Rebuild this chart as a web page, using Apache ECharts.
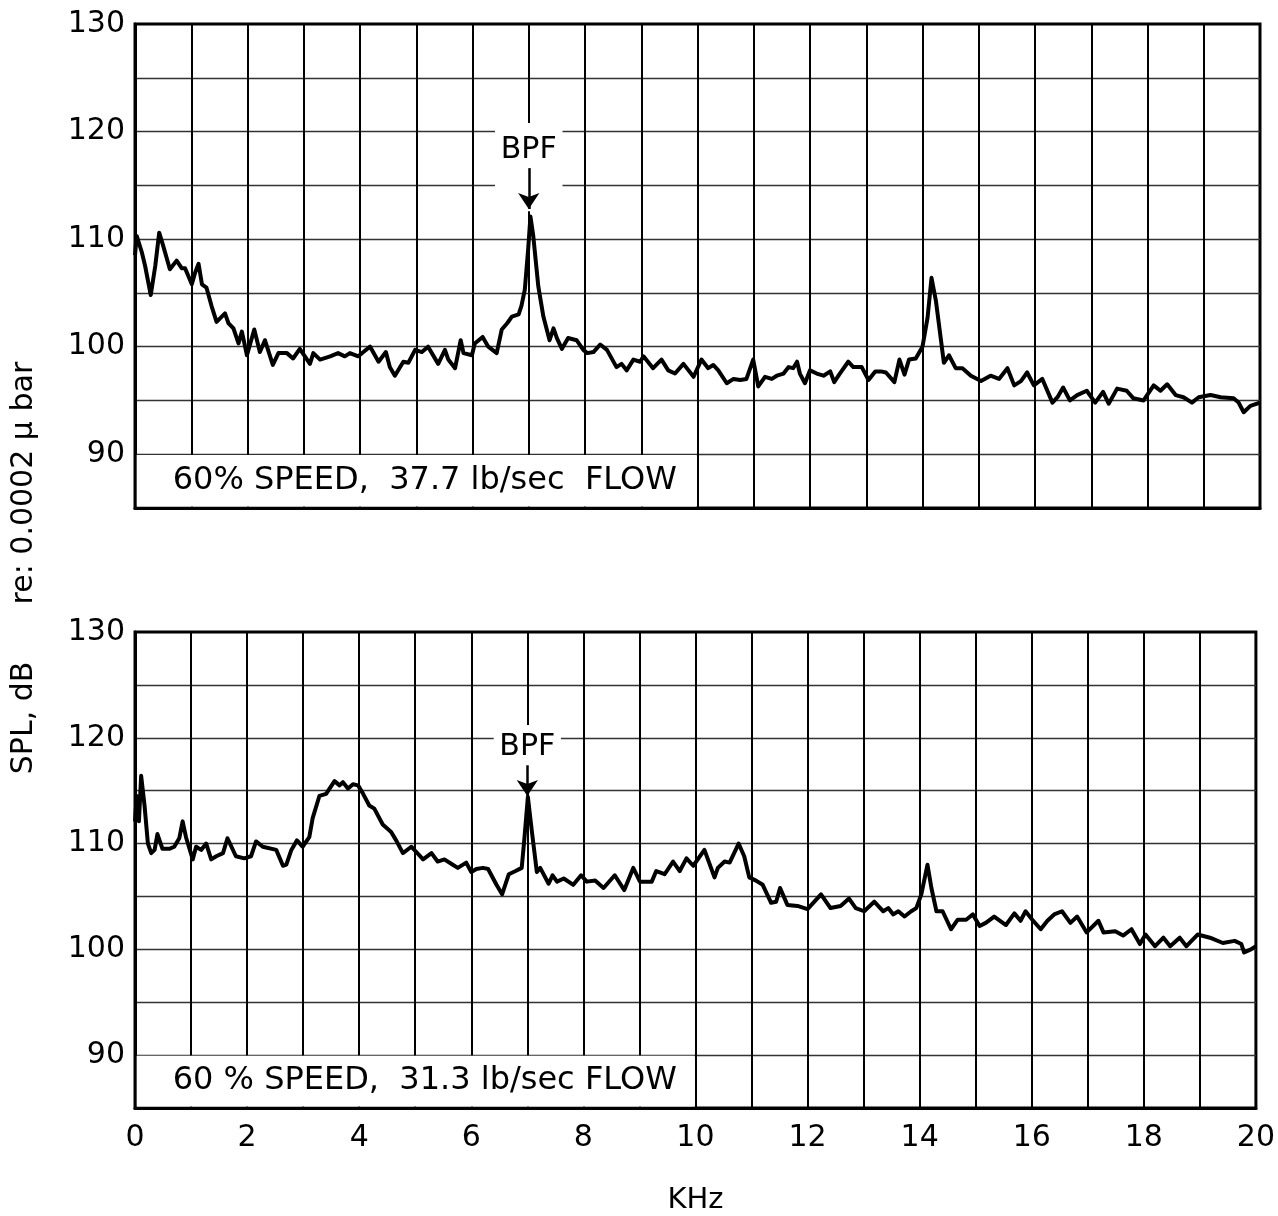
<!DOCTYPE html>
<html><head><meta charset="utf-8">
<script src="https://cdn.jsdelivr.net/npm/echarts@6/dist/echarts.min.js"></script>
<style>html,body{margin:0;padding:0;background:#fff}#c{width:1278px;height:1216px}</style>
</head><body><div id="c"></div>
<script>
// ---- data (frequency in kHz, SPL in dB) ----
const freqTop = [0.00,0.03,0.12,0.18,0.28,0.36,0.43,0.50,0.62,0.74,0.83,0.89,1.01,1.07,1.13,1.19,1.27,1.36,1.45,1.60,1.66,1.75,1.84,1.90,1.99,2.12,2.22,2.31,2.45,2.55,2.70,2.81,2.93,3.11,3.17,3.29,3.47,3.61,3.73,3.82,3.97,4.06,4.18,4.33,4.46,4.53,4.62,4.77,4.86,4.98,5.10,5.21,5.39,5.51,5.57,5.69,5.79,5.84,5.99,6.04,6.18,6.28,6.43,6.52,6.62,6.70,6.82,6.87,6.93,6.99,7.03,7.08,7.17,7.26,7.37,7.44,7.50,7.59,7.70,7.85,7.97,8.04,8.15,8.27,8.39,8.56,8.65,8.74,8.86,8.98,9.04,9.21,9.36,9.48,9.60,9.75,9.93,10.07,10.19,10.28,10.37,10.52,10.64,10.76,10.87,10.99,11.08,11.20,11.32,11.41,11.53,11.62,11.70,11.77,11.82,11.91,12.00,12.12,12.24,12.36,12.43,12.53,12.68,12.77,12.92,13.04,13.16,13.26,13.35,13.50,13.59,13.68,13.76,13.88,14.00,14.09,14.16,14.24,14.38,14.47,14.59,14.71,14.86,15.04,15.21,15.36,15.51,15.63,15.75,15.86,15.98,16.13,16.31,16.40,16.50,16.62,16.75,16.92,17.07,17.21,17.31,17.46,17.63,17.75,17.93,18.11,18.23,18.35,18.50,18.64,18.79,18.91,19.12,19.30,19.53,19.62,19.71,19.83,20.00];
const splTop = [108.5,110.3,108.8,107.5,104.8,107.5,110.6,109.4,107.2,108.0,107.3,107.3,105.8,106.9,107.7,105.8,105.5,103.8,102.3,103.1,102.2,101.7,100.3,101.4,99.2,101.6,99.5,100.6,98.3,99.4,99.4,98.9,99.8,98.4,99.4,98.8,99.1,99.4,99.1,99.4,99.1,99.5,100.0,98.6,99.5,98.1,97.3,98.6,98.5,99.7,99.5,100.0,98.4,99.7,98.8,98.0,100.6,99.4,99.2,100.3,100.9,100.0,99.4,101.6,102.2,102.8,103.0,103.8,105.3,109.1,112.1,110.3,105.6,102.8,100.6,101.7,100.8,99.8,100.8,100.6,99.7,99.4,99.5,100.2,99.7,98.1,98.4,97.8,98.8,98.6,99.1,98.0,98.8,97.8,97.5,98.4,97.2,98.8,98.0,98.3,97.8,96.6,97.0,96.9,97.0,98.8,96.3,97.2,97.0,97.3,97.5,98.1,98.0,98.6,97.5,96.6,97.8,97.5,97.3,97.7,96.7,97.5,98.6,98.1,98.1,96.9,97.7,97.7,97.6,96.7,98.8,97.4,98.8,98.9,100.0,102.7,106.4,104.2,98.5,99.2,98.0,98.0,97.3,96.8,97.3,97.0,98.0,96.4,96.8,97.6,96.4,97.0,94.8,95.3,96.2,95.0,95.5,95.9,94.8,95.8,94.7,96.1,95.9,95.2,95.0,96.4,95.9,96.5,95.5,95.3,94.8,95.3,95.5,95.3,95.2,94.8,93.9,94.5,94.8];
const freqBottom = [0.00,0.03,0.07,0.11,0.17,0.23,0.29,0.35,0.40,0.49,0.61,0.70,0.79,0.85,0.91,1.03,1.09,1.18,1.27,1.36,1.45,1.57,1.65,1.80,1.95,2.07,2.16,2.28,2.52,2.64,2.70,2.79,2.89,2.99,3.11,3.17,3.29,3.41,3.56,3.65,3.71,3.80,3.89,3.98,4.07,4.18,4.27,4.42,4.57,4.66,4.78,4.93,5.02,5.14,5.29,5.40,5.52,5.67,5.76,5.91,6.00,6.09,6.21,6.30,6.45,6.55,6.67,6.79,6.90,6.95,7.01,7.08,7.17,7.23,7.38,7.45,7.53,7.65,7.82,7.96,8.06,8.21,8.36,8.56,8.73,8.89,9.01,9.22,9.30,9.45,9.60,9.72,9.84,9.96,10.16,10.34,10.40,10.52,10.61,10.77,10.87,10.96,11.08,11.20,11.35,11.44,11.51,11.64,11.82,12.00,12.24,12.41,12.59,12.74,12.86,13.01,13.19,13.26,13.35,13.44,13.53,13.62,13.73,13.85,13.94,14.03,14.14,14.21,14.30,14.41,14.56,14.68,14.83,14.95,15.07,15.18,15.33,15.54,15.69,15.80,15.89,16.01,16.16,16.28,16.40,16.54,16.69,16.81,16.98,17.19,17.28,17.49,17.63,17.78,17.93,18.03,18.20,18.35,18.47,18.64,18.76,18.96,19.18,19.41,19.62,19.74,19.79,19.91,20.00];
const splBottom = [112.1,114.5,112.1,116.4,113.6,110.0,109.1,109.4,110.9,109.5,109.5,109.7,110.5,112.1,110.6,108.5,109.7,109.4,110.0,108.5,108.8,109.1,110.5,108.8,108.6,108.8,110.2,109.7,109.4,107.9,108.0,109.4,110.3,109.7,110.6,112.4,114.5,114.7,115.9,115.5,115.8,115.2,115.6,115.5,114.7,113.6,113.3,111.8,111.1,110.3,109.1,109.7,109.2,108.5,109.1,108.3,108.5,108.0,107.7,108.2,107.3,107.6,107.7,107.6,106.1,105.2,107.1,107.4,107.7,110.6,114.4,111.2,107.3,107.7,106.2,107.0,106.4,106.7,106.1,107.0,106.4,106.5,105.8,107.0,105.6,107.7,106.4,106.4,107.4,107.1,108.3,107.4,108.6,107.9,109.4,106.8,107.7,108.3,108.2,110.0,108.8,106.8,106.5,106.1,104.4,104.5,105.8,104.2,104.1,103.8,105.2,103.9,104.1,104.8,103.9,103.6,104.5,104.1,103.6,103.9,103.3,103.6,103.1,103.6,103.9,105.2,108.0,105.8,103.6,103.6,101.9,102.8,102.8,103.3,102.2,102.5,103.1,102.3,103.4,102.7,103.6,102.8,101.9,102.7,103.3,103.6,102.5,103.1,101.6,102.7,101.6,101.7,101.3,101.9,100.5,101.4,100.3,101.1,100.3,101.1,100.3,101.4,101.1,100.6,100.8,100.5,99.7,100.0,100.3];
const xTickLabels = [0,2,4,6,8,10,12,14,16,18,20];
const yTickLabels = [90,100,110,120,130];
const captionTop = '60% SPEED,  37.7 lb/sec  FLOW';
const captionBottom = '60 % SPEED,  31.3 lb/sec FLOW';
const bpfLabel = 'BPF';
const bpfFreq = 7.0;
const bpfArrowTop = [116.6, 112.8];
const bpfArrowBottom = [117.4, 114.5];

const FONT = '"DejaVu Sans", "Liberation Sans", sans-serif';
const zip = (xs, ys) => xs.map((x, i) => [x, ys[i]]);

function xAxisCfg(gi) {
  return {
    type: 'value', gridIndex: gi, min: 0, max: 20, interval: 1,
    axisLine: { show: true, lineStyle: { color: '#000', width: 3 } },
    axisTick: { show: false },
    axisLabel: { show: gi === 1, fontSize: 30, color: '#000', fontFamily: FONT, margin: 15,
      formatter: v => xTickLabels.includes(v) ? String(v) : '' },
    splitLine: { show: true, showMinLine: false, showMaxLine: false, lineStyle: { color: '#000', width: 2 } },
    name: gi === 1 ? 'KHz' : '', nameLocation: 'middle', nameGap: 78,
    nameTextStyle: { fontSize: 29, color: '#000', fontFamily: FONT }
  };
}
function yAxisCfg(gi) {
  return {
    type: 'value', gridIndex: gi, min: 85, max: 130, interval: 5,
    axisLine: { show: true, lineStyle: { color: '#000', width: 3 } },
    axisTick: { show: false },
    axisLabel: { fontSize: 30, color: '#000', fontFamily: FONT, margin: 10,
      formatter: v => yTickLabels.includes(v) ? String(v) : '' },
    splitLine: { show: true, showMinLine: false, showMaxLine: false, lineStyle: { color: '#333', width: 1.3 } }
  };
}
function curveSeries(gi, data, caption, boxY) {
  return {
    type: 'line', xAxisIndex: gi, yAxisIndex: gi, data: data, z: 3,
    showSymbol: false, symbol: 'none', silent: true,
    lineStyle: { color: '#000', width: 4, join: 'round' },
    markArea: {
      silent: true,
      data: [
        [{ coord: [0.03, 85.15], itemStyle: { color: '#fff' },
           label: { show: true, position: 'insideLeft', distance: 36, formatter: caption,
                    fontSize: 32, color: '#000', fontFamily: FONT } },
         { coord: [9.98, 89.93] }],
        [{ coord: [6.4, boxY[0]], itemStyle: { color: '#fff' }, label: { show: false } },
         { coord: [7.6, boxY[1]] }]
      ]
    }
  };
}
function arrowSeries(gi, arrow) {
  return {
    type: 'line', xAxisIndex: gi, yAxisIndex: gi, data: [], z: 10, silent: true,
    markLine: {
      silent: true, z: 10, symbol: ['none', 'arrow'], symbolSize: 16,
      lineStyle: { color: '#000', width: 2.5, type: 'solid', opacity: 1 },
      label: { show: true, position: 'start', formatter: bpfLabel, fontSize: 30,
               color: '#000', fontFamily: FONT, distance: 3 },
      emphasis: { disabled: true },
      data: [[{ coord: [bpfFreq, arrow[0]], lineStyle: { type: 'solid', color: '#000', width: 2.5 } },
              { coord: [bpfFreq, arrow[1]] }]]
    }
  };
}

const chart = echarts.init(document.getElementById('c'), null, { renderer: 'canvas' });
chart.setOption({
  animation: false,
  backgroundColor: '#fff',
  grid: [
    { left: 135, top: 24, width: 1125, height: 484, show: true, borderColor: '#000', borderWidth: 3, backgroundColor: 'transparent' },
    { left: 135, top: 632, width: 1125, height: 486, show: true, borderColor: '#000', borderWidth: 3, backgroundColor: 'transparent' }
  ],
  xAxis: [xAxisCfg(0), xAxisCfg(1)],
  yAxis: [yAxisCfg(0), yAxisCfg(1)],
  series: [
    curveSeries(0, zip(freqTop, splTop), captionTop, [112.6, 120.8]),
    curveSeries(1, zip(freqBottom, splBottom), captionBottom, [115.3, 121.2]),
    arrowSeries(0, bpfArrowTop),
    arrowSeries(1, bpfArrowBottom)
  ],
  graphic: [{
    type: 'text', x: 24, y: 568, rotation: Math.PI / 2,
    style: { text: 'SPL, dB      re: 0.0002 μ bar', font: '30px "DejaVu Sans", sans-serif',
             fill: '#000', align: 'center', verticalAlign: 'middle' }
  }]
});
</script>
</body></html>
